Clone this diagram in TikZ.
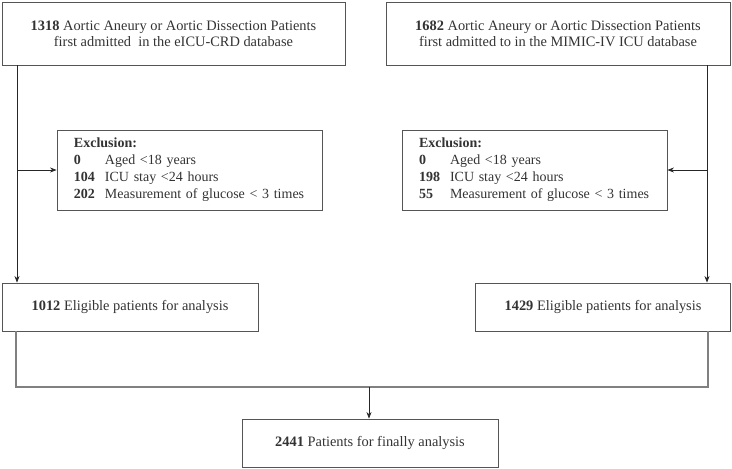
\documentclass[tikz,border=0pt]{standalone}
\usepackage{fontspec}
\setmainfont{Liberation Serif}
\usetikzlibrary{arrows.meta}
\definecolor{boxline}{HTML}{555555}
\definecolor{txt}{HTML}{333333}
\definecolor{joinline}{HTML}{808080}
\tikzset{
  box/.style={draw=boxline, line width=0.9pt, text=txt, inner sep=0pt, align=center,
    font=\fontsize{14.4}{16}\selectfont},
  exclbox/.style={draw=boxline, line width=0.9pt, text=txt, inner xsep=17pt, inner ysep=0pt,
    text width=231pt, align=left, minimum height=80pt, font=\fontsize{14}{17}\selectfont},
  arr/.style={draw=black!85, line width=0.7pt, -{Stealth[length=6.5pt,width=5pt]}},
  joinln/.style={draw=joinline, line width=1.2pt},
}
\newcommand{\nb}[1]{\makebox[31pt][l]{\textbf{#1}}}
\begin{document}
\begin{tikzpicture}[x=1pt,y=-1pt]
\useasboundingbox (0,0) rectangle (732,469);
\node[box, minimum width=343pt, minimum height=63pt] (tl) at (173.5,33.5)
  {\textbf{1318} Aortic Aneury or Aortic Dissection Patients\\first admitted~ in the eICU-CRD database};
\node[box, minimum width=344pt, minimum height=63pt] (tr) at (558,33.5)
  {\textbf{1682} Aortic Aneury or Aortic Dissection Patients\\first admitted to in the MIMIC-IV ICU database};
\node[exclbox] (exl) at (189.5,170)
  {\textbf{Exclusion:}\\\nb{0}Aged <18 years\\\nb{104}ICU stay <24 hours\\\nb{202}Measurement of glucose < 3 times};
\node[exclbox] (exr) at (534.5,170)
  {\textbf{Exclusion:}\\\nb{0}Aged <18 years\\\nb{198}ICU stay <24 hours\\\nb{55}Measurement of glucose < 3 times};
\node[box, minimum width=256pt, minimum height=48pt] (el) at (130,307)
  {\textbf{1012} Eligible patients for analysis};
\node[box, minimum width=255pt, minimum height=48pt] (er) at (603,307)
  {\textbf{1429} Eligible patients for analysis};
\node[box, minimum width=256pt, minimum height=48pt] (fin) at (370,443)
  {\textbf{2441} Patients for finally analysis};
\coordinate (lx) at (17,0);
\coordinate (rx) at (707,0);
\coordinate (blx) at (16,0);
\coordinate (brx) at (708,0);
\coordinate (jn) at (369,387);
\draw[arr] (tl.south -| lx) -- (el.north -| lx);
\draw[arr] (exl.west -| lx) -- (exl.west);
\draw[arr] (tr.south -| rx) -- (er.north -| rx);
\draw[arr] (exr.east -| rx) -- (exr.east);
\draw[joinln] (el.south -| blx) |- (jn) -| (er.south -| brx);
\draw[arr] (jn) -- (jn |- fin.north);
\end{tikzpicture}
\end{document}
